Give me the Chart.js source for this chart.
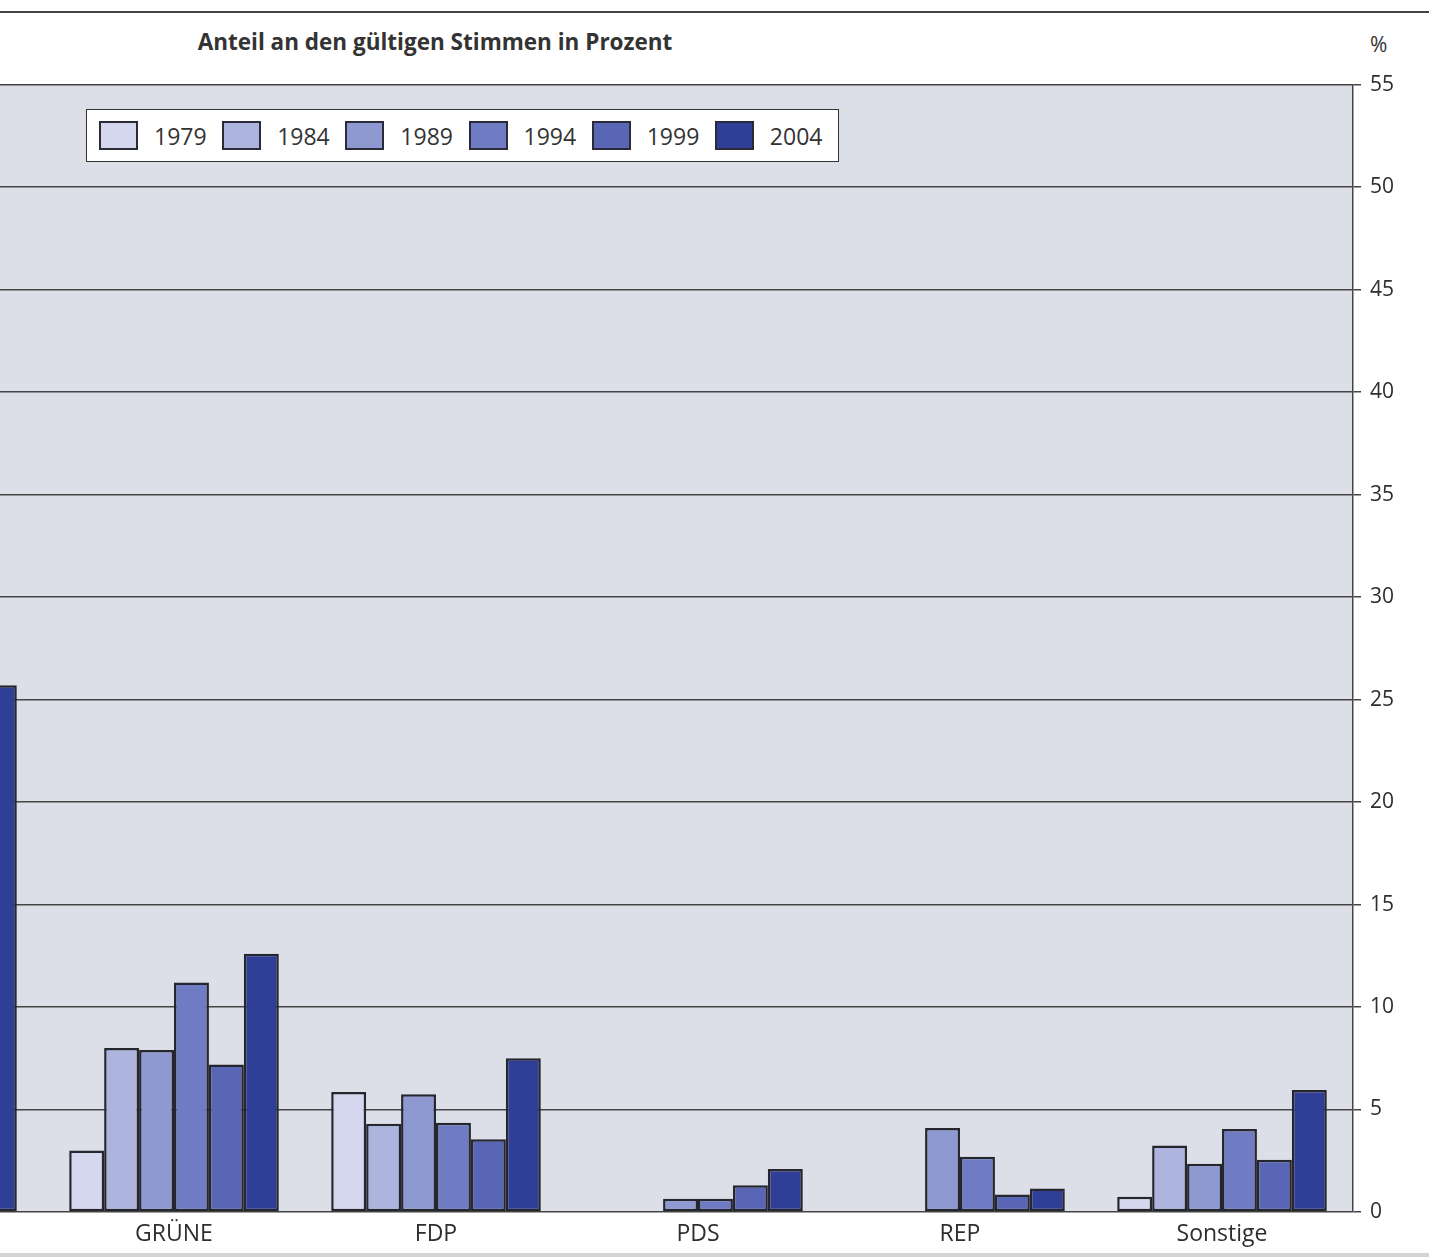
<!DOCTYPE html>
<html>
<head>
<meta charset="utf-8">
<script src="https://cdn.jsdelivr.net/npm/chart.js@4"></script>
<style>
html, body { margin: 0; padding: 0; background: #fff; width: 1429px; height: 1257px; overflow: hidden; position: relative; font-family: "Open Sans", sans-serif; color: #333; }
#topRule { position: absolute; left: 0; top: 11px; width: 1429px; height: 2px; background: #444; }
#title { position: absolute; left: 0; width: 870px; top: 26px; text-align: center; font-weight: bold; font-size: 22.5px; }
#unit { position: absolute; left: 1370px; top: 30px; font-size: 21px; }
#bottomRule { position: absolute; left: 0; top: 1253px; width: 1429px; height: 4px; background: #d4d4d4; }
#wrap { position: absolute; left: -219px; top: 63px; width: 1648px; height: 1187px; }
#legend { position: absolute; left: 86px; top: 109px; background: #fff; border: 1.5px solid #333; display: flex; align-items: center; padding-left: 12px; box-sizing: border-box; width: 753px; height: 53px; }
.item { width: 124px; display: flex; align-items: center; font-size: 23px; }
.sw { width: 39px; height: 29px; border: 2px solid #2b2b38; box-sizing: border-box; margin-right: 16px; }
</style>
</head>
<body>
<div id="topRule"></div>
<div id="title">Anteil an den gültigen Stimmen in Prozent</div>
<div id="unit">%</div>
<div id="wrap"><canvas id="chart"></canvas></div>
<div id="legend"></div>
<div id="bottomRule"></div>
<script>
// categories (SPD is cut off at the left edge, only its 2004 bar shows)
const parties = ['SPD', 'GRÜNE', 'FDP', 'PDS', 'REP', 'Sonstige'];
const years = ['1979', '1984', '1989', '1994', '1999', '2004'];

const v1979 = [null, 3.0, 5.85, null, null, 0.75];
const v1984 = [null, 8.0, 4.3, null, null, 3.25];
const v1989 = [null, 7.9, 5.75, 0.65, 4.1, 2.35];
const v1994 = [null, 11.2, 4.35, 0.65, 2.7, 4.05];
const v1999 = [null, 7.2, 3.55, 1.3, 0.85, 2.55];
const v2004 = [25.7, 12.6, 7.5, 2.1, 1.15, 5.95];

const yTicks = [0, 5, 10, 15, 20, 25, 30, 35, 40, 45, 50, 55];

const colors = ['#d4d7ee', '#adb4de', '#8e98d1', '#6f7cc4', '#5866b5', '#2f3f97'];
const series = [v1979, v1984, v1989, v1994, v1999, v2004];
const font = '"Open Sans", sans-serif';

const plotBg = {
    id: 'plotBg',
    beforeDraw(chart) {
        const { ctx, chartArea: a } = chart;
        ctx.save();
        ctx.fillStyle = '#dcdfe8';
        ctx.fillRect(a.left, a.top, a.right - a.left, a.bottom - a.top);
        ctx.restore();
    }
};

const chart = new Chart(document.getElementById('chart'), {
    type: 'bar',
    data: {
        labels: parties,
        datasets: years.map((y, i) => ({
            label: y,
            data: series[i],
            backgroundColor: colors[i],
            borderColor: '#26262f',
            borderWidth: 2.5,
            borderSkipped: false,
            categoryPercentage: 0.8,
            barPercentage: 1.0
        }))
    },
    options: {
        responsive: true,
        maintainAspectRatio: false,
        animation: false,
        layout: { padding: 0 },
        plugins: {
            legend: { display: false },
            tooltip: { enabled: false }
        },
        scales: {
            x: {
                grid: { display: false, drawTicks: false },
                border: { display: false },
                ticks: { color: '#2e2e2e', font: { family: font, size: 23 }, padding: 9 },
                afterFit(s) { s.height = 38; }
            },
            y: {
                position: 'right',
                min: 0,
                max: 55,
                afterBuildTicks(s) { s.ticks = yTicks.map(v => ({ value: v })); },
                ticks: { color: '#2e2e2e', font: { family: font, size: 21 }, padding: 9 },
                grid: { color: '#444', lineWidth: 1.5, tickLength: 8 },
                border: { display: true, color: '#444', width: 1.5 },
                afterFit(s) { s.width = 76; }
            }
        }
    },
    plugins: [plotBg]
});

// legend built from the datasets
const legend = document.getElementById('legend');
chart.data.datasets.forEach(ds => {
    const item = document.createElement('div');
    item.className = 'item';
    item.innerHTML = '<div class="sw" style="background:' + ds.backgroundColor + '"></div>' + ds.label;
    legend.appendChild(item);
});
</script>
</body>
</html>
